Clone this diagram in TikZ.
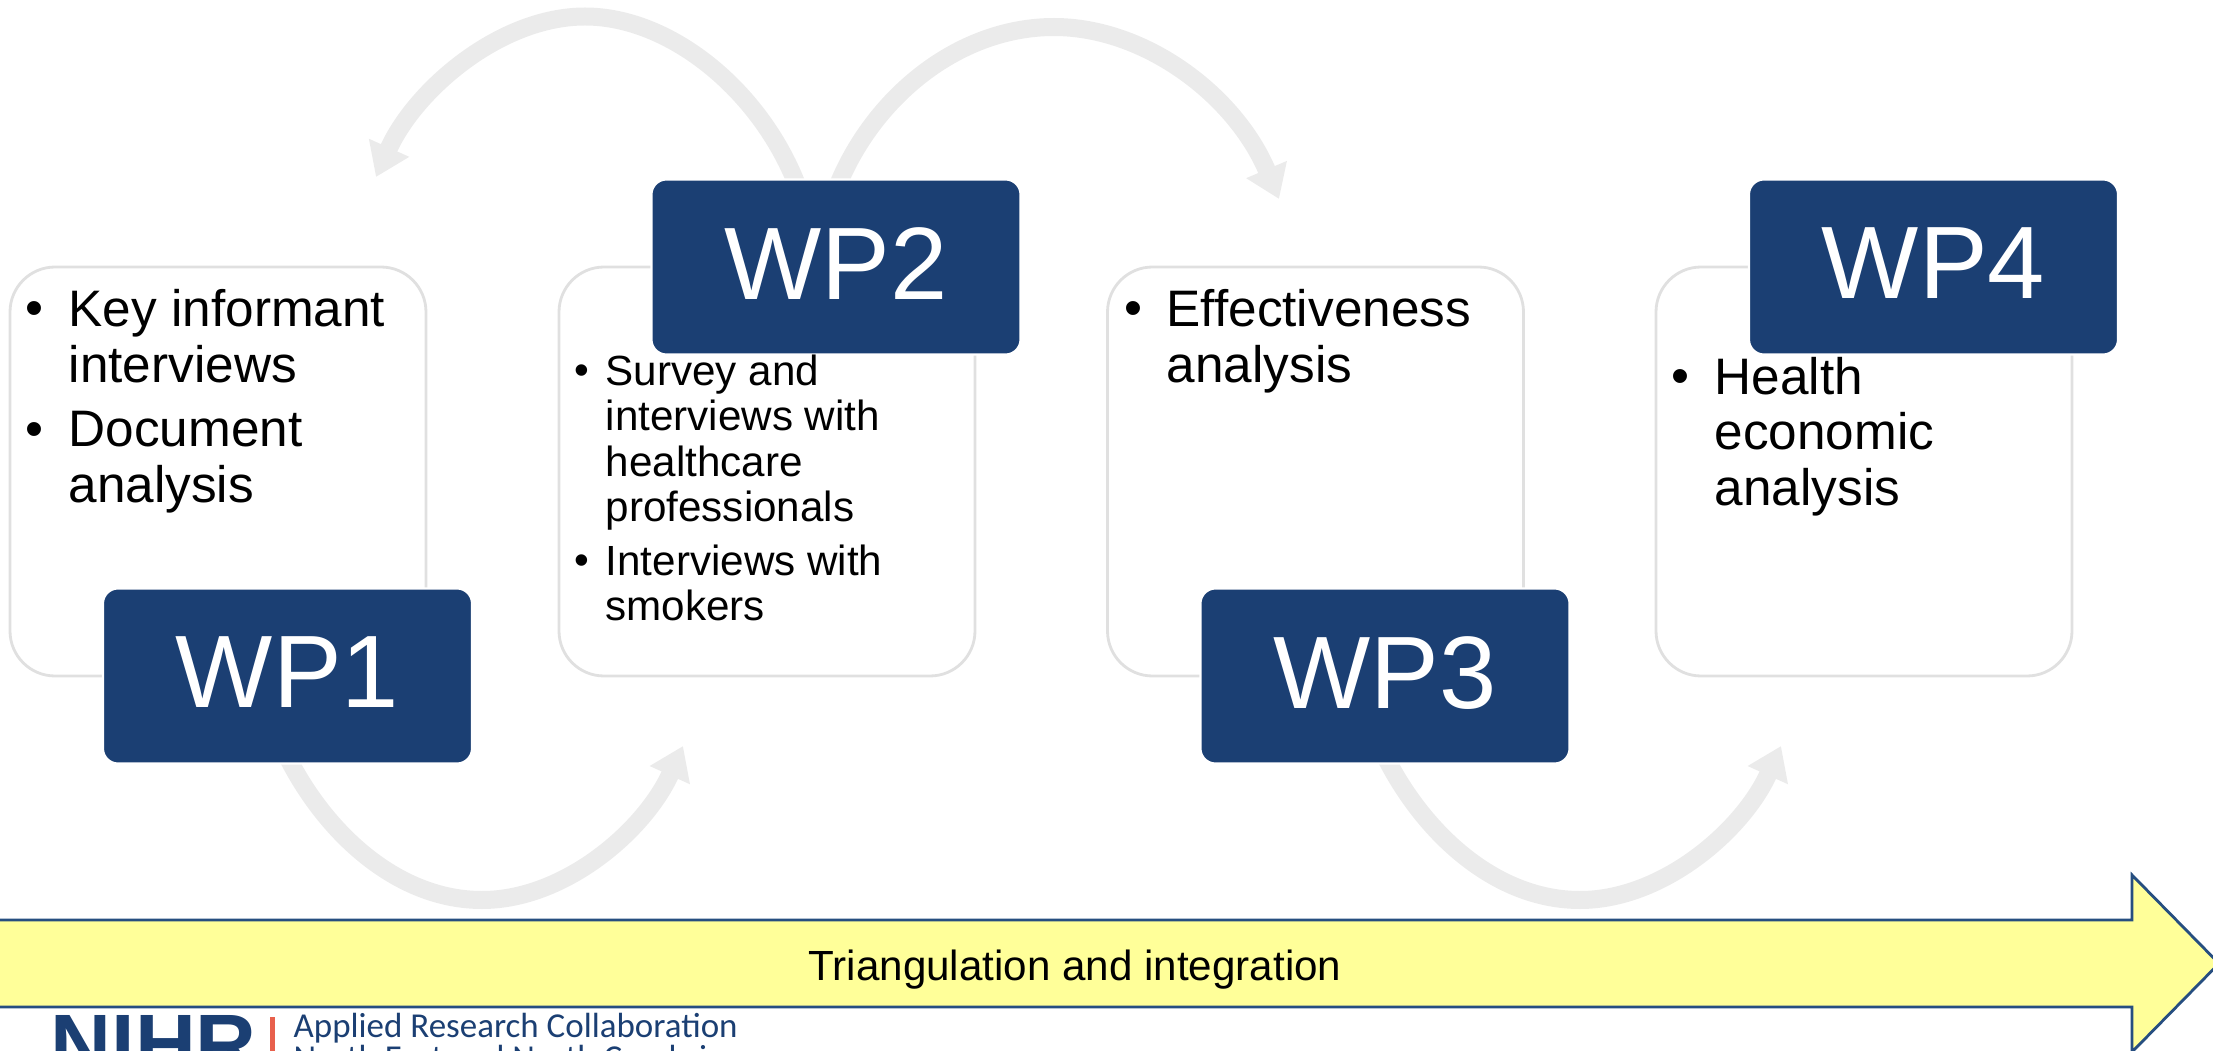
\documentclass[tikz,border=0pt]{standalone}
\usepackage{fontspec}
\setmainfont{Liberation Sans}
\newfontfamily\logofont{Carlito}
\usetikzlibrary{arrows.meta}
\definecolor{wpblue}{HTML}{1B3F73}
\definecolor{arcgrey}{HTML}{EBEBEB}
\definecolor{cardline}{HTML}{E0E0E0}
\definecolor{barfill}{HTML}{FFFF99}
\definecolor{barline}{HTML}{264E80}
\definecolor{logored}{HTML}{E8604C}
\pgfdeclarelayer{edgelayer}
\pgfdeclarelayer{nodelayer}
\pgfsetlayers{edgelayer,nodelayer,main}
\tikzstyle{card}=[draw=cardline,fill=white,line width=0.8pt,rounded corners=0.45cm,minimum width=4.16cm,minimum height=4.09cm]
\tikzstyle{wp}=[draw=white,fill=wpblue,text=white,line width=0.6pt,rounded corners=0.15cm,minimum width=3.69cm,minimum height=1.75cm,text depth=0.07cm,font=\fontsize{29.3}{34}\selectfont]
\tikzstyle{big}=[inner sep=0pt,anchor=north west,align=left,font=\fontsize{14.6}{15.8}\selectfont]
\tikzstyle{small}=[inner sep=0pt,anchor=north west,align=left,font=\fontsize{12}{12.85}\selectfont]
\tikzstyle{bigdot}=[inner sep=0pt,anchor=base east,font=\fontsize{14.6}{15.8}\selectfont]
\tikzstyle{smalldot}=[inner sep=0pt,anchor=base east,font=\fontsize{12}{12.85}\selectfont]
\tikzstyle{arc}=[draw=arcgrey,line width=0.18cm,-{Triangle[length=0.32cm,width=0.42cm]}]
\tikzstyle{bar}=[draw=barline,fill=barfill,line width=0.8pt]
\begin{document}
\begin{tikzpicture}[x=1cm,y=-1cm]
	\useasboundingbox (0,0) rectangle (22.13,10.51);
	\begin{pgfonlayer}{nodelayer}
		\node [style=card] (c1) at (2.18, 4.715) {};
		\node [style=card] (c2) at (7.67, 4.715) {};
		\node [style=card] (c3) at (13.155, 4.715) {};
		\node [style=card] (c4) at (18.64, 4.715) {};
		\node [style=wp] (wp1) at (2.875, 6.76) {WP1};
		\node [style=wp] (wp2) at (8.36, 2.67) {WP2};
		\node [style=wp] (wp3) at (13.85, 6.76) {WP3};
		\node [style=wp] (wp4) at (19.335, 2.67) {WP4};
	\end{pgfonlayer}
	% curved arrows
	\coordinate (a1) at (2.89, 7.6);
	\coordinate (a1m) at (4.82, 9.0);
	\coordinate (a1e) at (6.83, 7.46);
	\coordinate (a2) at (7.97, 1.85);
	\coordinate (a2m) at (5.85, 0.165);
	\coordinate (a2e) at (3.76, 1.77);
	\coordinate (a3) at (8.38, 1.85);
	\coordinate (a3m) at (10.54, 0.27);
	\coordinate (a3e) at (12.79, 1.99);
	\coordinate (a4) at (13.87, 7.6);
	\coordinate (a4m) at (15.8, 9.0);
	\coordinate (a4e) at (17.81, 7.46);
	\begin{pgfonlayer}{edgelayer}
		\draw [style=arc] (a1) .. controls (3.29, 8.37) and (4.0, 9.0) .. (a1m) .. controls (5.65, 9.0) and (6.45, 8.3) .. (a1e);
		\draw [style=arc] (a2) .. controls (7.6, 0.9) and (6.7, 0.165) .. (a2m) .. controls (5.0, 0.165) and (4.15, 0.9) .. (a2e);
		\draw [style=arc] (a3) .. controls (8.75, 0.95) and (9.6, 0.27) .. (a3m) .. controls (11.45, 0.27) and (12.35, 0.95) .. (a3e);
		\draw [style=arc] (a4) .. controls (14.27, 8.37) and (14.98, 9.0) .. (a4m) .. controls (16.63, 9.0) and (17.43, 8.3) .. (a4e);
	\end{pgfonlayer}
	% list texts
	\node [style=big] (k) at (0.68, 2.89) {Key informant\\interviews};
	\node [style=big] (d) at (0.68, 4.105) {Document\\analysis};
	\node [style=small] (s) at (6.05, 3.545) {Survey and\\interviews with\\healthcare\\professionals};
	\node [style=small] (i) at (6.05, 5.44) {Interviews with\\smokers};
	\node [style=big] (e) at (11.66, 2.89) {Effectiveness\\analysis};
	\node [style=big] (h) at (17.14, 3.565) {Health\\economic\\analysis};
	\node [style=bigdot] (kb) at (0.44, 3.26) {•};
	\node [style=bigdot] (db) at (0.44, 4.47) {•};
	\node [style=smalldot] (sb) at (5.9, 3.85) {•};
	\node [style=smalldot] (ib) at (5.9, 5.74) {•};
	\node [style=bigdot] (eb) at (11.43, 3.26) {•};
	\node [style=bigdot] (hb) at (16.9, 3.94) {•};
	% long arrow
	\draw [style=bar] (-0.2, 9.2) -- (21.32, 9.2) -- (21.32, 8.75) -- (22.19, 9.635) -- (21.32, 10.52) -- (21.32, 10.07) -- (-0.2, 10.07) -- cycle;
	\node [font=\fontsize{12}{14}\selectfont] (bar) at (10.75, 9.7) {Triangulation and integration};
	% logo
	\node [inner sep=0pt,anchor=north west,text=wpblue,font=\fontsize{24}{28}\bfseries\selectfont] (nihr) at (0.5, 10.15) {NIHR};
	\draw [logored,line width=0.05cm] (2.72, 10.17) -- (2.72, 10.6);
	\node [inner sep=0pt,anchor=north west,align=left,text=wpblue,font=\logofont\fontsize{9.95}{9.1}\selectfont] (arc) at (2.93, 10.13) {Applied Research Collaboration\\North East and North Cumbria};
\end{tikzpicture}
\end{document}
